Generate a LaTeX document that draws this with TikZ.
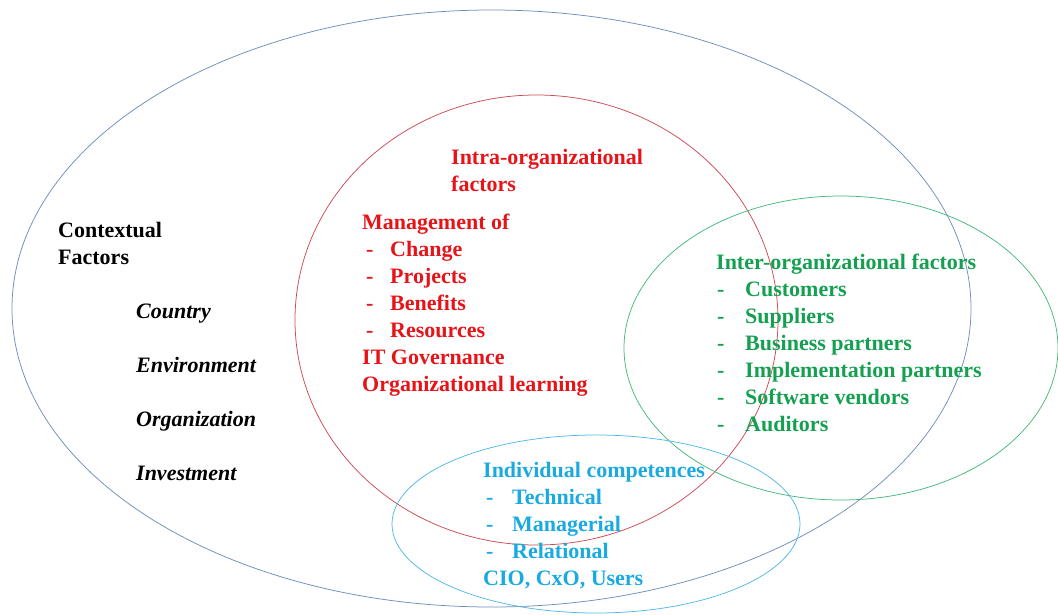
\documentclass[tikz,border=0pt]{standalone}
\usepackage{fontspec}
\setmainfont{Liberation Serif}
\definecolor{outerc}{RGB}{112,142,188}
\definecolor{intrac}{RGB}{205,75,85}
\definecolor{interc}{RGB}{70,185,125}
\definecolor{indivc}{RGB}{80,185,230}
\definecolor{intrat}{RGB}{230,20,25}
\definecolor{intert}{RGB}{20,160,80}
\definecolor{indivt}{RGB}{25,170,225}
\tikzset{
  ring/.style={line width=0.75pt},
  lbl/.style={anchor=base west, inner sep=0pt, font=\fontsize{22}{27}\selectfont\bfseries},
  ctx/.style={lbl, text=black},
  ctxi/.style={lbl, text=black, font=\fontsize{22}{27}\selectfont\bfseries\itshape},
  intra/.style={lbl, text=intrat},
  inter/.style={lbl, text=intert},
  indiv/.style={lbl, text=indivt},
}
\begin{document}
\begin{tikzpicture}[x=1pt,y=-1pt]
\useasboundingbox (0,0) rectangle (1058,614);
% the four overlapping domains
\draw[ring, outerc] (491.5,308.5) ellipse [x radius=479.5pt, y radius=298.5pt];
\draw[ring, intrac] (536.5,320) ellipse [x radius=241.5pt, y radius=225pt];
\draw[ring, interc] (841,348) ellipse [x radius=217pt, y radius=152pt];
\draw[ring, indivc] (596,524) ellipse [x radius=204pt, y radius=89pt];
% contextual factors
\node[ctx] (ctx1) at (58,237) {Contextual};
\node[ctx] (ctx2) at (58,264) {Factors};
\node[ctxi] (cty) at (136,318) {Country};
\node[ctxi] (env) at (136,372) {Environment};
\node[ctxi] (org) at (136,426) {Organization};
\node[ctxi] (inv) at (136,480) {Investment};
% intra-organizational factors
\node[intra] (ia1) at (451,164) {Intra-organizational};
\node[intra] (ia2) at (451,191) {factors};
\node[intra] (mgmt) at (362,229) {Management of};
\node[intra] (d1) at (366,256) {-};
\node[intra] (m1) at (390,256) {Change};
\node[intra] (d2) at (366,283) {-};
\node[intra] (m2) at (390,283) {Projects};
\node[intra] (d3) at (366,310) {-};
\node[intra] (m3) at (390,310) {Benefits};
\node[intra] (d4) at (366,337) {-};
\node[intra] (m4) at (390,337) {Resources};
\node[intra] (itg) at (362,364) {IT Governance};
\node[intra] (orl) at (362,391) {Organizational learning};
% inter-organizational factors
\node[inter] (ie) at (716,269) {Inter-organizational factors};
\node[inter] (e1) at (717,296) {-};
\node[inter] (p1) at (745,296) {Customers};
\node[inter] (e2) at (717,323) {-};
\node[inter] (p2) at (745,323) {Suppliers};
\node[inter] (e3) at (717,350) {-};
\node[inter] (p3) at (745,350) {Business partners};
\node[inter] (e4) at (717,377) {-};
\node[inter] (p4) at (745,377) {Implementation partners};
\node[inter] (e5) at (717,404) {-};
\node[inter] (p5) at (745,404) {Software vendors};
\node[inter] (e6) at (717,431) {-};
\node[inter] (p6) at (745,431) {Auditors};
% individual competences
\node[indiv] (ic) at (483,477) {Individual competences};
\node[indiv] (f1) at (486,504) {-};
\node[indiv] (c1) at (512,504) {Technical};
\node[indiv] (f2) at (486,531) {-};
\node[indiv] (c2) at (512,531) {Managerial};
\node[indiv] (f3) at (486,558) {-};
\node[indiv] (c3) at (512,558) {Relational};
\node[indiv] (roles) at (483,585) {CIO, CxO, Users};
\end{tikzpicture}
\end{document}
